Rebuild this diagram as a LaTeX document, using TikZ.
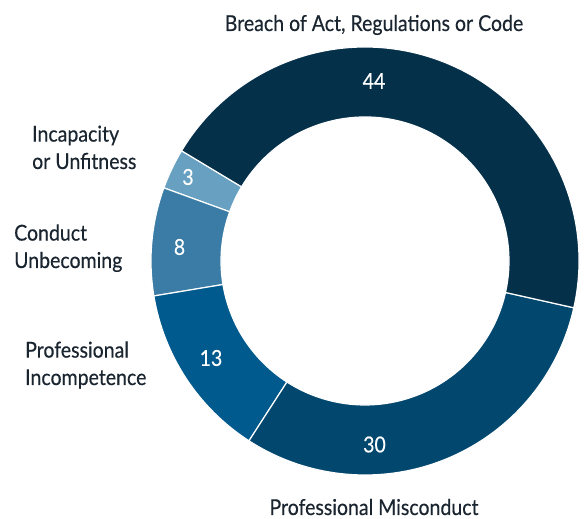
\documentclass[tikz,border=0pt]{standalone}
\usepackage{fontspec}
\setmainfont[FakeStretch=0.89,FakeBold=0.35]{Lato}
\definecolor{cBreach}{HTML}{05304A}
\definecolor{cMis}{HTML}{02476E}
\definecolor{cInc}{HTML}{015A8D}
\definecolor{cCon}{HTML}{3A7CA5}
\definecolor{cUnf}{HTML}{67A0C0}
\definecolor{cText}{HTML}{1A2530}
\newcommand\donutseg[3]{\filldraw[fill=#3,draw=white,line width=1.2bp]
  ([shift={(#1:214bp)}]c) arc[start angle=#1,end angle=#2,radius=214bp]
  -- ([shift={(#2:144bp)}]c) arc[start angle=#2,end angle=#1,radius=144bp] -- cycle;}
\tikzset{
  val/.style={text=white,font=\fontsize{22}{26}\selectfont,inner sep=0pt,anchor=center},
  lab/.style={text=cText,font=\fontsize{22}{27.5}\selectfont,inner sep=0pt,align=left,anchor=base west},
  labc/.style={text=cText,font=\fontsize{22}{27.5}\selectfont,inner sep=0pt,anchor=base}
}
\begin{document}
\begin{tikzpicture}[x=1bp,y=1bp]
\useasboundingbox (0,0) rectangle (584,519);
\coordinate (c) at (365,258);
\donutseg{149}{160.02}{cUnf}
\donutseg{160.02}{189.41}{cCon}
\donutseg{189.41}{237.17}{cInc}
\donutseg{237.17}{347.37}{cMis}
\donutseg{347.37}{509}{cBreach}
\node[val] (v44) at (374,438) {44};
\node[val] (v3) at (188,342) {3};
\node[val] (v8) at (179.5,272) {8};
\node[val] (v13) at (211,161) {13};
\node[val] (v30) at (374.5,74.5) {30};
\node[labc] (lBreach) at (374,488) {Breach of Act, Regulations or Code};
\node[lab] (lUnf) at (32,350) {Incapacity\\or Unfitness};
\node[lab] (lCon) at (14,251) {Conduct\\Unbecoming};
\node[lab] (lInc) at (25,134) {Professional\\Incompetence};
\node[labc] (lMis) at (374,4) {Professional Misconduct};
\end{tikzpicture}
\end{document}
